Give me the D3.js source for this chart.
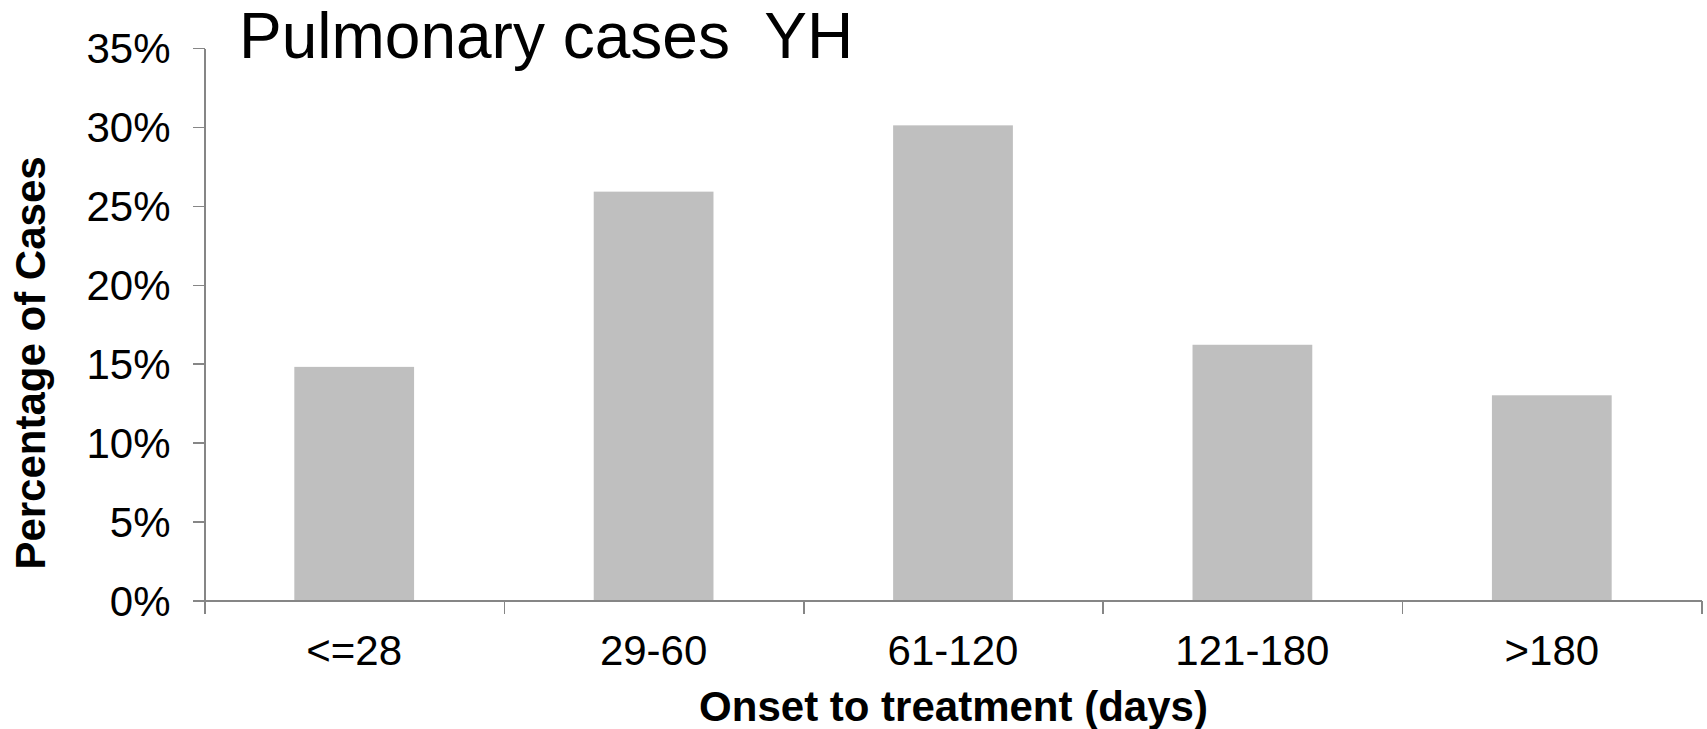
<!DOCTYPE html>
<html>
<head>
<meta charset="utf-8">
<script src="https://cdn.jsdelivr.net/npm/d3@7"></script>
<style>
  html, body { margin: 0; padding: 0; background: #fff; }
  svg { display: block; font-family: "Liberation Sans", Arial, sans-serif; }
  .axis path, .axis line { stroke: #868686; stroke-width: 1.5; shape-rendering: crispEdges; }
  .axis text { fill: #000; }
</style>
</head>
<body>
<svg id="chart" width="1707" height="729"></svg>
<script>
// Share of pulmonary cases by time from onset to treatment
const categories = ["<=28", "29-60", "61-120", "121-180", ">180"];
const percentages = [14.8, 25.9, 30.1, 16.2, 13.0];
const yTickValues = [0, 5, 10, 15, 20, 25, 30, 35];

const svg = d3.select("#chart");

const plot = { left: 204.5, right: 1701.5, top: 48, bottom: 600.5 };

const x = d3.scaleBand()
  .domain(categories)
  .range([plot.left, plot.right])
  .paddingInner(0.6)
  .paddingOuter(0.3);

const y = d3.scaleLinear()
  .domain([0, 35])
  .range([plot.bottom, plot.top]);

// boundaries between categories carry the x tick marks
const xEdges = d3.scaleLinear()
  .domain([0, categories.length])
  .range([plot.left, plot.right]);

// bars
svg.append("g")
  .selectAll("rect")
  .data(percentages)
  .join("rect")
  .attr("x", (d, i) => x(categories[i]))
  .attr("width", x.bandwidth())
  .attr("y", d => y(d))
  .attr("height", d => y(0) - y(d))
  .attr("fill", "#bfbfbf");

// y axis
const yAxis = svg.append("g")
  .attr("class", "axis")
  .attr("transform", `translate(${plot.left},0)`)
  .call(d3.axisLeft(y)
    .tickValues(yTickValues)
    .tickSize(12)
    .tickSizeOuter(0)
    .tickPadding(22)
    .tickFormat(d => d + "%"));
yAxis.selectAll("text").attr("font-size", 42).attr("dy", "0.35em");

// x axis: tick marks at category edges
svg.append("g")
  .attr("class", "axis")
  .attr("transform", `translate(0,${plot.bottom})`)
  .call(d3.axisBottom(xEdges)
    .tickValues(d3.range(categories.length + 1))
    .tickSize(13)
    .tickSizeOuter(0)
    .tickFormat(""));

// x axis: category labels at band centres
const xLabels = svg.append("g")
  .attr("class", "axis")
  .attr("transform", `translate(0,${plot.bottom})`)
  .call(d3.axisBottom(x).tickSize(0).tickPadding(0));
xLabels.select(".domain").remove();
xLabels.selectAll("text")
  .attr("font-size", 42)
  .attr("dy", null)
  .attr("y", 64.5);

// title
svg.append("text")
  .attr("x", 239)
  .attr("y", 58)
  .attr("font-size", 64)
  .attr("fill", "#000")
  .style("white-space", "pre")
  .text("Pulmonary cases  YH");

// y axis title
svg.append("text")
  .attr("transform", "translate(45,363) rotate(-90)")
  .attr("text-anchor", "middle")
  .attr("font-size", 42)
  .attr("font-weight", "bold")
  .attr("fill", "#000")
  .text("Percentage of Cases");

// x axis title
svg.append("text")
  .attr("x", 953.5)
  .attr("y", 721)
  .attr("text-anchor", "middle")
  .attr("font-size", 42)
  .attr("font-weight", "bold")
  .attr("fill", "#000")
  .text("Onset to treatment (days)");
</script>
</body>
</html>
